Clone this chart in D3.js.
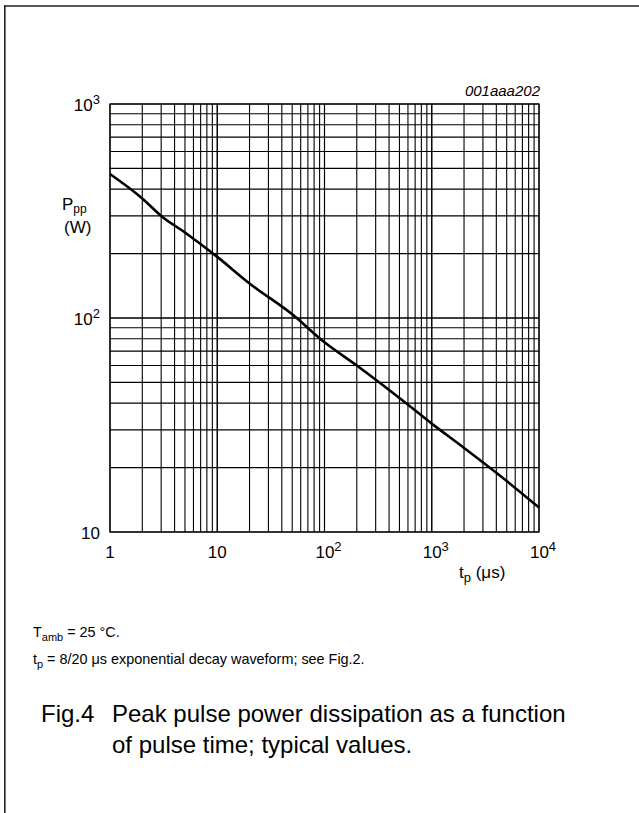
<!DOCTYPE html>
<html>
<head>
<meta charset="utf-8">
<script src="https://cdn.jsdelivr.net/npm/d3@7"></script>
<style>
  body { margin: 0; background: #fff; }
  svg { display: block; font-family: "Liberation Sans", Arial, sans-serif; }
</style>
</head>
<body>
<div id="chart"></div>
<script>
// pulse time (us) and peak pulse power (W)
var tpValues = [1, 2, 3, 5, 10, 20, 50, 100, 200, 500, 1000, 2000, 5000, 10000];
var pppValues = [471, 362, 300, 251, 193, 145, 104, 77, 60, 42.3, 32.1, 24.7, 17.3, 13.0];

var xTicks = [1, 10, 100, 1000, 10000];
var xTickLabels = [["1", ""], ["10", ""], ["10", "2"], ["10", "3"], ["10", "4"]];
var yTicks = [10, 100, 1000];
var yTickLabels = [["10", ""], ["10", "2"], ["10", "3"]];

var W = 639, H = 813;
var plotLeft = 110, plotRight = 539, plotTop = 104, plotBottom = 532;

var svg = d3.select("#chart").append("svg")
    .attr("width", W)
    .attr("height", H);

// outer frame (top + left only)
svg.append("line").attr("x1", 4).attr("x2", W).attr("y1", 6).attr("y2", 6)
    .style("stroke", "#222").style("stroke-width", 1.6);
svg.append("line").attr("x1", 4.8).attr("x2", 4.8).attr("y1", 5.2).attr("y2", H)
    .style("stroke", "#222").style("stroke-width", 1.6);

var xScale = d3.scaleLog().domain([1, 10000]).range([plotLeft, plotRight]);
var yScale = d3.scaleLog().domain([10, 1000]).range([plotBottom, plotTop]);

// grid lines at every 1..9 of each decade
var xGrid = [];
for (var d = 1; d < 10000; d *= 10) for (var k = 1; k <= 10; k++) xGrid.push(d * k);
var yGrid = [];
for (var d2 = 10; d2 < 1000; d2 *= 10) for (var k2 = 1; k2 <= 10; k2++) yGrid.push(d2 * k2);

svg.append("g").selectAll("line")
    .data(xGrid)
  .enter().append("line")
    .attr("x1", function(d) { return xScale(d); })
    .attr("x2", function(d) { return xScale(d); })
    .attr("y1", plotTop).attr("y2", plotBottom)
    .style("stroke", "#000").style("stroke-width", 1.1);

svg.append("g").selectAll("line")
    .data(yGrid)
  .enter().append("line")
    .attr("x1", plotLeft).attr("x2", plotRight)
    .attr("y1", function(d) { return yScale(d); })
    .attr("y2", function(d) { return yScale(d); })
    .style("stroke", "#000").style("stroke-width", 1.1);

// plot border
svg.append("rect")
    .attr("x", plotLeft).attr("y", plotTop)
    .attr("width", plotRight - plotLeft).attr("height", plotBottom - plotTop)
    .style("fill", "none").style("stroke", "#000").style("stroke-width", 1.2);

var line = d3.line()
    .x(function(d, i) { return xScale(tpValues[i]); })
    .y(function(d) { return yScale(d); })
    .curve(d3.curveMonotoneX);

svg.append("path")
    .datum(pppValues)
    .attr("d", line)
    .style("fill", "none")
    .style("stroke", "#000")
    .style("stroke-width", 2.6)
    .style("stroke-linejoin", "round");

// tick labels
function powLabel(sel, parts) {
    sel.append("tspan").text(parts[0]);
    if (parts[1]) sel.append("tspan").attr("dy", -7).style("font-size", "13px").text(parts[1]);
}

xTicks.forEach(function(t, i) {
    var txt = svg.append("text")
        .attr("x", xScale(t) + (xTickLabels[i][1] ? 4 : 0))
        .attr("y", 558)
        .attr("text-anchor", "middle")
        .style("font-size", "17px");
    powLabel(txt, xTickLabels[i]);
});

yTicks.forEach(function(t, i) {
    var txt = svg.append("text")
        .attr("x", 100)
        .attr("y", yScale(t) + 7)
        .attr("text-anchor", "end")
        .style("font-size", "17px");
    powLabel(txt, yTickLabels[i]);
});

// axis titles
var yt = svg.append("text").attr("x", 62).attr("y", 210).style("font-size", "17px");
yt.append("tspan").text("P");
yt.append("tspan").attr("dy", 3).style("font-size", "12px").text("pp");
svg.append("text").attr("x", 64).attr("y", 233).style("font-size", "17px").text("(W)");

var xt = svg.append("text").attr("x", 459).attr("y", 578).style("font-size", "17px");
xt.append("tspan").text("t");
xt.append("tspan").attr("dy", 4).style("font-size", "13px").text("p");
xt.append("tspan").attr("dy", -4).text(" (\u03bcs)");

svg.append("text")
    .attr("x", plotRight + 1).attr("y", 96)
    .attr("text-anchor", "end")
    .style("font-size", "15px").style("font-style", "italic")
    .text("001aaa202");

// notes
var n1 = svg.append("text").attr("x", 33).attr("y", 637).style("font-size", "14.4px");
n1.append("tspan").text("T");
n1.append("tspan").attr("dy", 4).style("font-size", "11px").text("amb");
n1.append("tspan").attr("dy", -4).text(" = 25 \u00b0C.");

var n2 = svg.append("text").attr("x", 33).attr("y", 664).style("font-size", "14.4px");
n2.append("tspan").text("t");
n2.append("tspan").attr("dy", 4).style("font-size", "11px").text("p");
n2.append("tspan").attr("dy", -4).text(" = 8/20 \u03bcs exponential decay waveform; see Fig.2.");

svg.append("text").attr("x", 41).attr("y", 722).style("font-size", "24px").text("Fig.4");
svg.append("text").attr("x", 112).attr("y", 722).style("font-size", "24px")
    .text("Peak pulse power dissipation as a function");
svg.append("text").attr("x", 112).attr("y", 753).style("font-size", "24px")
    .text("of pulse time; typical values.");
</script>
</body>
</html>
